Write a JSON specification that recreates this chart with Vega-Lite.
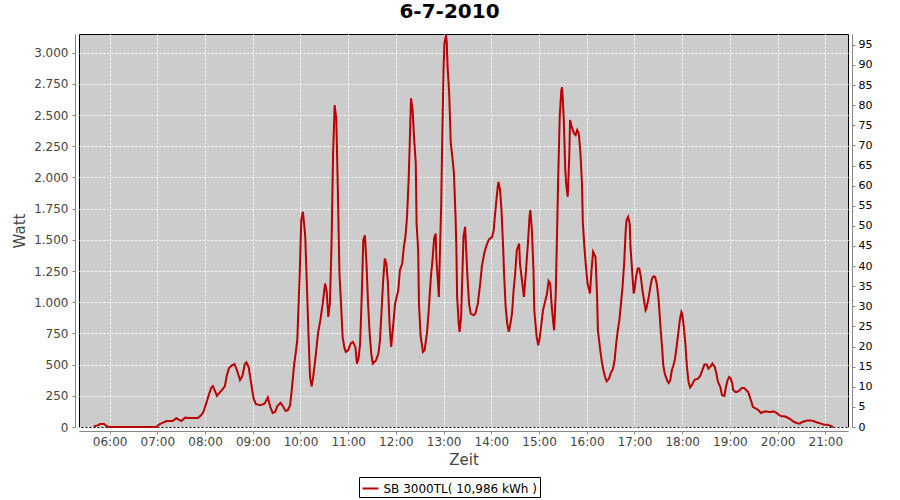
{
  "$schema": "https://vega.github.io/schema/vega-lite/v6.json",
  "width": 769,
  "height": 393,
  "autosize": "none",
  "padding": {"left": 79, "top": 34, "right": 52, "bottom": 73},
  "background": "white",
  "title": {"text": "6-7-2010", "fontSize": 20, "fontWeight": "bold", "font": "DejaVu Sans", "color": "#000000", "anchor": "middle", "dx": -14, "offset": 9},
  "data": {
    "values": [
      {"t":"2010-07-06T05:40","w":5},{"t":"2010-07-06T05:46","w":15},{"t":"2010-07-06T05:48","w":25},{"t":"2010-07-06T05:53","w":25},{"t":"2010-07-06T05:56","w":8},{"t":"2010-07-06T05:59","w":0},{"t":"2010-07-06T06:59","w":0},
      {"t":"2010-07-06T07:02","w":20},{"t":"2010-07-06T07:07","w":35},{"t":"2010-07-06T07:12","w":48},{"t":"2010-07-06T07:19","w":48},{"t":"2010-07-06T07:24","w":70},{"t":"2010-07-06T07:30","w":48},{"t":"2010-07-06T07:35","w":75},{"t":"2010-07-06T07:39","w":72},{"t":"2010-07-06T07:51","w":72},{"t":"2010-07-06T07:55","w":94},{"t":"2010-07-06T07:58","w":121},
      {"t":"2010-07-06T08:02","w":200},{"t":"2010-07-06T08:05","w":263},{"t":"2010-07-06T08:08","w":317},{"t":"2010-07-06T08:10","w":328},{"t":"2010-07-06T08:12","w":296},{"t":"2010-07-06T08:15","w":250},{"t":"2010-07-06T08:18","w":274},{"t":"2010-07-06T08:22","w":301},{"t":"2010-07-06T08:25","w":328},{"t":"2010-07-06T08:27","w":403},{"t":"2010-07-06T08:30","w":470},{"t":"2010-07-06T08:33","w":490},{"t":"2010-07-06T08:37","w":505},{"t":"2010-07-06T08:40","w":457},{"t":"2010-07-06T08:44","w":377},{"t":"2010-07-06T08:47","w":409},{"t":"2010-07-06T08:50","w":505},{"t":"2010-07-06T08:52","w":519},{"t":"2010-07-06T08:55","w":476},{"t":"2010-07-06T08:58","w":350},
      {"t":"2010-07-06T09:01","w":229},{"t":"2010-07-06T09:04","w":183},{"t":"2010-07-06T09:10","w":175},{"t":"2010-07-06T09:15","w":188},{"t":"2010-07-06T09:19","w":237},{"t":"2010-07-06T09:22","w":161},{"t":"2010-07-06T09:25","w":113},{"t":"2010-07-06T09:28","w":121},{"t":"2010-07-06T09:31","w":167},{"t":"2010-07-06T09:35","w":194},{"t":"2010-07-06T09:38","w":167},{"t":"2010-07-06T09:41","w":129},{"t":"2010-07-06T09:44","w":134},{"t":"2010-07-06T09:47","w":175},{"t":"2010-07-06T09:49","w":296},{"t":"2010-07-06T09:52","w":498},{"t":"2010-07-06T09:54","w":592},{"t":"2010-07-06T09:56","w":700},{"t":"2010-07-06T09:58","w":1043},{"t":"2010-07-06T09:59","w":1217},
      {"t":"2010-07-06T10:01","w":1658},{"t":"2010-07-06T10:03","w":1725},{"t":"2010-07-06T10:05","w":1600},{"t":"2010-07-06T10:06","w":1524},{"t":"2010-07-06T10:08","w":1150},{"t":"2010-07-06T10:10","w":762},{"t":"2010-07-06T10:12","w":401},{"t":"2010-07-06T10:14","w":326},{"t":"2010-07-06T10:16","w":401},{"t":"2010-07-06T10:19","w":562},{"t":"2010-07-06T10:22","w":749},{"t":"2010-07-06T10:25","w":856},{"t":"2010-07-06T10:28","w":990},{"t":"2010-07-06T10:31","w":1150},{"t":"2010-07-06T10:33","w":1083},{"t":"2010-07-06T10:35","w":882},{"t":"2010-07-06T10:37","w":990},{"t":"2010-07-06T10:39","w":1444},{"t":"2010-07-06T10:41","w":2193},{"t":"2010-07-06T10:43","w":2580},{"t":"2010-07-06T10:45","w":2473},{"t":"2010-07-06T10:47","w":1898},{"t":"2010-07-06T10:49","w":1230},{"t":"2010-07-06T10:51","w":989},{"t":"2010-07-06T10:53","w":722},{"t":"2010-07-06T10:55","w":642},{"t":"2010-07-06T10:57","w":602},
      {"t":"2010-07-06T11:00","w":615},{"t":"2010-07-06T11:03","w":668},{"t":"2010-07-06T11:06","w":682},{"t":"2010-07-06T11:09","w":642},{"t":"2010-07-06T11:11","w":508},{"t":"2010-07-06T11:13","w":548},{"t":"2010-07-06T11:15","w":668},{"t":"2010-07-06T11:17","w":1043},{"t":"2010-07-06T11:19","w":1497},{"t":"2010-07-06T11:21","w":1537},{"t":"2010-07-06T11:23","w":1310},{"t":"2010-07-06T11:25","w":989},{"t":"2010-07-06T11:27","w":749},{"t":"2010-07-06T11:29","w":588},{"t":"2010-07-06T11:31","w":508},{"t":"2010-07-06T11:35","w":535},{"t":"2010-07-06T11:38","w":588},{"t":"2010-07-06T11:40","w":695},{"t":"2010-07-06T11:42","w":936},{"t":"2010-07-06T11:44","w":1177},{"t":"2010-07-06T11:46","w":1350},{"t":"2010-07-06T11:48","w":1310},{"t":"2010-07-06T11:50","w":1150},{"t":"2010-07-06T11:52","w":829},{"t":"2010-07-06T11:54","w":642},{"t":"2010-07-06T11:56","w":775},{"t":"2010-07-06T11:59","w":989},
      {"t":"2010-07-06T12:01","w":1043},{"t":"2010-07-06T12:03","w":1096},{"t":"2010-07-06T12:05","w":1257},{"t":"2010-07-06T12:08","w":1310},{"t":"2010-07-06T12:10","w":1444},{"t":"2010-07-06T12:12","w":1524},{"t":"2010-07-06T12:14","w":1685},{"t":"2010-07-06T12:16","w":1979},{"t":"2010-07-06T12:18","w":2407},{"t":"2010-07-06T12:19","w":2634},{"t":"2010-07-06T12:21","w":2540},{"t":"2010-07-06T12:23","w":2300},{"t":"2010-07-06T12:25","w":2113},{"t":"2010-07-06T12:26","w":1631},{"t":"2010-07-06T12:28","w":1417},{"t":"2010-07-06T12:29","w":989},{"t":"2010-07-06T12:31","w":735},{"t":"2010-07-06T12:34","w":602},{"t":"2010-07-06T12:36","w":615},{"t":"2010-07-06T12:39","w":749},{"t":"2010-07-06T12:41","w":909},{"t":"2010-07-06T12:44","w":1203},{"t":"2010-07-06T12:46","w":1337},{"t":"2010-07-06T12:48","w":1511},{"t":"2010-07-06T12:50","w":1551},{"t":"2010-07-06T12:51","w":1337},{"t":"2010-07-06T12:53","w":1150},{"t":"2010-07-06T12:54","w":1043},{"t":"2010-07-06T12:55","w":1310},{"t":"2010-07-06T12:57","w":1792},{"t":"2010-07-06T12:58","w":2219},
      {"t":"2010-07-06T13:00","w":2888},{"t":"2010-07-06T13:01","w":3075},{"t":"2010-07-06T13:03","w":3142},{"t":"2010-07-06T13:04","w":3075},{"t":"2010-07-06T13:05","w":2888},{"t":"2010-07-06T13:07","w":2674},{"t":"2010-07-06T13:09","w":2273},{"t":"2010-07-06T13:11","w":2166},{"t":"2010-07-06T13:13","w":2032},{"t":"2010-07-06T13:15","w":1685},{"t":"2010-07-06T13:16","w":1444},{"t":"2010-07-06T13:17","w":1043},{"t":"2010-07-06T13:19","w":829},{"t":"2010-07-06T13:20","w":762},{"t":"2010-07-06T13:22","w":882},{"t":"2010-07-06T13:23","w":1096},{"t":"2010-07-06T13:25","w":1524},{"t":"2010-07-06T13:27","w":1604},{"t":"2010-07-06T13:28","w":1471},{"t":"2010-07-06T13:30","w":1203},{"t":"2010-07-06T13:32","w":989},{"t":"2010-07-06T13:34","w":909},{"t":"2010-07-06T13:38","w":896},{"t":"2010-07-06T13:40","w":909},{"t":"2010-07-06T13:43","w":989},{"t":"2010-07-06T13:46","w":1150},{"t":"2010-07-06T13:48","w":1283},{"t":"2010-07-06T13:51","w":1390},{"t":"2010-07-06T13:54","w":1457},{"t":"2010-07-06T13:57","w":1503},
      {"t":"2010-07-06T14:01","w":1524},{"t":"2010-07-06T14:03","w":1578},{"t":"2010-07-06T14:04","w":1658},{"t":"2010-07-06T14:06","w":1792},{"t":"2010-07-06T14:08","w":1925},{"t":"2010-07-06T14:09","w":1965},{"t":"2010-07-06T14:11","w":1898},{"t":"2010-07-06T14:13","w":1711},{"t":"2010-07-06T14:15","w":1417},{"t":"2010-07-06T14:16","w":1230},{"t":"2010-07-06T14:18","w":963},{"t":"2010-07-06T14:20","w":829},{"t":"2010-07-06T14:22","w":762},{"t":"2010-07-06T14:24","w":829},{"t":"2010-07-06T14:26","w":909},{"t":"2010-07-06T14:28","w":1096},{"t":"2010-07-06T14:30","w":1230},{"t":"2010-07-06T14:32","w":1417},{"t":"2010-07-06T14:35","w":1471},{"t":"2010-07-06T14:36","w":1310},{"t":"2010-07-06T14:38","w":1203},{"t":"2010-07-06T14:40","w":1096},{"t":"2010-07-06T14:41","w":1043},{"t":"2010-07-06T14:43","w":1203},{"t":"2010-07-06T14:46","w":1471},{"t":"2010-07-06T14:48","w":1685},{"t":"2010-07-06T14:49","w":1738},{"t":"2010-07-06T14:51","w":1578},{"t":"2010-07-06T14:53","w":1257},{"t":"2010-07-06T14:54","w":936},{"t":"2010-07-06T14:57","w":722},{"t":"2010-07-06T14:59","w":655},
      {"t":"2010-07-06T15:01","w":722},{"t":"2010-07-06T15:03","w":829},{"t":"2010-07-06T15:05","w":936},{"t":"2010-07-06T15:07","w":989},{"t":"2010-07-06T15:10","w":1070},{"t":"2010-07-06T15:12","w":1171},{"t":"2010-07-06T15:14","w":1150},{"t":"2010-07-06T15:16","w":963},{"t":"2010-07-06T15:18","w":829},{"t":"2010-07-06T15:19","w":775},{"t":"2010-07-06T15:21","w":1070},{"t":"2010-07-06T15:23","w":1658},{"t":"2010-07-06T15:24","w":1979},{"t":"2010-07-06T15:26","w":2487},{"t":"2010-07-06T15:28","w":2700},{"t":"2010-07-06T15:29","w":2722},{"t":"2010-07-06T15:31","w":2487},{"t":"2010-07-06T15:33","w":2059},{"t":"2010-07-06T15:34","w":1952},{"t":"2010-07-06T15:36","w":1845},{"t":"2010-07-06T15:38","w":2166},{"t":"2010-07-06T15:39","w":2460},{"t":"2010-07-06T15:41","w":2407},{"t":"2010-07-06T15:44","w":2353},{"t":"2010-07-06T15:46","w":2340},{"t":"2010-07-06T15:48","w":2380},{"t":"2010-07-06T15:50","w":2353},{"t":"2010-07-06T15:52","w":2200},{"t":"2010-07-06T15:54","w":1950},{"t":"2010-07-06T15:55","w":1650},{"t":"2010-07-06T15:57","w":1444},{"t":"2010-07-06T15:59","w":1283},
      {"t":"2010-07-06T16:01","w":1150},{"t":"2010-07-06T16:03","w":1096},{"t":"2010-07-06T16:04","w":1070},{"t":"2010-07-06T16:06","w":1257},{"t":"2010-07-06T16:08","w":1404},{"t":"2010-07-06T16:11","w":1364},{"t":"2010-07-06T16:13","w":1043},{"t":"2010-07-06T16:14","w":775},{"t":"2010-07-06T16:17","w":615},{"t":"2010-07-06T16:19","w":521},{"t":"2010-07-06T16:21","w":455},{"t":"2010-07-06T16:23","w":401},{"t":"2010-07-06T16:25","w":366},{"t":"2010-07-06T16:28","w":388},{"t":"2010-07-06T16:30","w":428},{"t":"2010-07-06T16:33","w":468},{"t":"2010-07-06T16:35","w":535},{"t":"2010-07-06T16:37","w":668},{"t":"2010-07-06T16:39","w":775},{"t":"2010-07-06T16:41","w":856},{"t":"2010-07-06T16:43","w":989},{"t":"2010-07-06T16:45","w":1123},{"t":"2010-07-06T16:47","w":1310},{"t":"2010-07-06T16:49","w":1578},{"t":"2010-07-06T16:50","w":1658},{"t":"2010-07-06T16:52","w":1685},{"t":"2010-07-06T16:54","w":1631},{"t":"2010-07-06T16:55","w":1444},{"t":"2010-07-06T16:57","w":1257},{"t":"2010-07-06T16:59","w":1070},
      {"t":"2010-07-06T17:00","w":1096},{"t":"2010-07-06T17:02","w":1203},{"t":"2010-07-06T17:04","w":1270},{"t":"2010-07-06T17:06","w":1270},{"t":"2010-07-06T17:08","w":1203},{"t":"2010-07-06T17:10","w":1096},{"t":"2010-07-06T17:12","w":1016},{"t":"2010-07-06T17:14","w":936},{"t":"2010-07-06T17:15","w":949},{"t":"2010-07-06T17:18","w":1043},{"t":"2010-07-06T17:20","w":1123},{"t":"2010-07-06T17:22","w":1190},{"t":"2010-07-06T17:24","w":1209},{"t":"2010-07-06T17:26","w":1203},{"t":"2010-07-06T17:28","w":1150},{"t":"2010-07-06T17:30","w":1043},{"t":"2010-07-06T17:31","w":963},{"t":"2010-07-06T17:33","w":775},{"t":"2010-07-06T17:35","w":615},{"t":"2010-07-06T17:36","w":508},{"t":"2010-07-06T17:38","w":428},{"t":"2010-07-06T17:41","w":374},{"t":"2010-07-06T17:43","w":353},{"t":"2010-07-06T17:45","w":374},{"t":"2010-07-06T17:47","w":455},{"t":"2010-07-06T17:49","w":495},{"t":"2010-07-06T17:51","w":548},{"t":"2010-07-06T17:53","w":642},{"t":"2010-07-06T17:55","w":749},{"t":"2010-07-06T17:57","w":856},{"t":"2010-07-06T17:59","w":922},
      {"t":"2010-07-06T18:00","w":909},{"t":"2010-07-06T18:02","w":802},{"t":"2010-07-06T18:04","w":668},{"t":"2010-07-06T18:06","w":481},{"t":"2010-07-06T18:08","w":361},{"t":"2010-07-06T18:10","w":316},{"t":"2010-07-06T18:12","w":334},{"t":"2010-07-06T18:14","w":361},{"t":"2010-07-06T18:16","w":380},{"t":"2010-07-06T18:20","w":388},{"t":"2010-07-06T18:23","w":414},{"t":"2010-07-06T18:26","w":468},{"t":"2010-07-06T18:28","w":500},{"t":"2010-07-06T18:31","w":500},{"t":"2010-07-06T18:33","w":468},{"t":"2010-07-06T18:36","w":487},{"t":"2010-07-06T18:38","w":508},{"t":"2010-07-06T18:41","w":481},{"t":"2010-07-06T18:43","w":428},{"t":"2010-07-06T18:45","w":361},{"t":"2010-07-06T18:48","w":321},{"t":"2010-07-06T18:50","w":254},{"t":"2010-07-06T18:53","w":249},{"t":"2010-07-06T18:55","w":321},{"t":"2010-07-06T18:57","w":374},{"t":"2010-07-06T18:59","w":401},
      {"t":"2010-07-06T19:01","w":388},{"t":"2010-07-06T19:03","w":348},{"t":"2010-07-06T19:04","w":299},{"t":"2010-07-06T19:07","w":281},{"t":"2010-07-06T19:09","w":281},{"t":"2010-07-06T19:12","w":294},{"t":"2010-07-06T19:15","w":313},{"t":"2010-07-06T19:18","w":313},{"t":"2010-07-06T19:20","w":299},{"t":"2010-07-06T19:23","w":281},{"t":"2010-07-06T19:25","w":241},{"t":"2010-07-06T19:27","w":201},{"t":"2010-07-06T19:29","w":160},{"t":"2010-07-06T19:33","w":147},{"t":"2010-07-06T19:36","w":134},{"t":"2010-07-06T19:39","w":112},{"t":"2010-07-06T19:42","w":120},{"t":"2010-07-06T19:45","w":126},{"t":"2010-07-06T19:49","w":120},{"t":"2010-07-06T19:52","w":120},{"t":"2010-07-06T19:55","w":126},{"t":"2010-07-06T19:59","w":112},
      {"t":"2010-07-06T20:02","w":94},{"t":"2010-07-06T20:05","w":86},{"t":"2010-07-06T20:08","w":86},{"t":"2010-07-06T20:11","w":80},{"t":"2010-07-06T20:15","w":67},{"t":"2010-07-06T20:18","w":53},{"t":"2010-07-06T20:21","w":40},{"t":"2010-07-06T20:24","w":32},{"t":"2010-07-06T20:28","w":27},{"t":"2010-07-06T20:31","w":40},{"t":"2010-07-06T20:35","w":48},{"t":"2010-07-06T20:38","w":53},{"t":"2010-07-06T20:41","w":53},{"t":"2010-07-06T20:45","w":48},{"t":"2010-07-06T20:48","w":40},{"t":"2010-07-06T20:52","w":32},{"t":"2010-07-06T20:55","w":27},{"t":"2010-07-06T20:58","w":19},
      {"t":"2010-07-06T21:02","w":19},{"t":"2010-07-06T21:05","w":13},{"t":"2010-07-06T21:08","w":5},{"t":"2010-07-06T21:10","w":0}
    ]
  },
  "layer": [
    {
      "mark": {"type": "line", "color": "#BB0000", "strokeWidth": 2},
      "encoding": {
        "x": {
          "field": "t", "type": "temporal", "title": "Zeit",
          "scale": {"domain": [
            {"year": 2010, "month": 7, "date": 6, "hours": 5, "minutes": 21, "seconds": 30},
            {"year": 2010, "month": 7, "date": 6, "hours": 21, "minutes": 28, "seconds": 30}
          ]},
          "axis": {
            "format": "%H:%M",
            "values": [
              {"year": 2010, "month": 7, "date": 6, "hours": 6},
              {"year": 2010, "month": 7, "date": 6, "hours": 7},
              {"year": 2010, "month": 7, "date": 6, "hours": 8},
              {"year": 2010, "month": 7, "date": 6, "hours": 9},
              {"year": 2010, "month": 7, "date": 6, "hours": 10},
              {"year": 2010, "month": 7, "date": 6, "hours": 11},
              {"year": 2010, "month": 7, "date": 6, "hours": 12},
              {"year": 2010, "month": 7, "date": 6, "hours": 13},
              {"year": 2010, "month": 7, "date": 6, "hours": 14},
              {"year": 2010, "month": 7, "date": 6, "hours": 15},
              {"year": 2010, "month": 7, "date": 6, "hours": 16},
              {"year": 2010, "month": 7, "date": 6, "hours": 17},
              {"year": 2010, "month": 7, "date": 6, "hours": 18},
              {"year": 2010, "month": 7, "date": 6, "hours": 19},
              {"year": 2010, "month": 7, "date": 6, "hours": 20},
              {"year": 2010, "month": 7, "date": 6, "hours": 21}
            ],
            "offset": 4, "domainColor": "#888888", "tickColor": "#888888", "tickSize": 3,
            "labelFont": "DejaVu Sans", "labelFontSize": 12, "labelColor": "#444444", "labelPadding": 2, "labelFlush": false,
            "titleFont": "DejaVu Sans", "titleFontSize": 15, "titleFontWeight": "normal", "titleColor": "#444444", "titlePadding": 5,
            "grid": true, "gridColor": "#FFFFFF", "gridDash": [2, 2], "gridWidth": 1
          }
        },
        "y": {
          "field": "w", "type": "quantitative", "title": "Watt",
          "scale": {"domain": [0, 3150], "nice": false},
          "axis": {
            "values": [0, 250, 500, 750, 1000, 1250, 1500, 1750, 2000, 2250, 2500, 2750, 3000],
            "labelExpr": "replace(format(datum.value, ','), ',', '.')",
            "offset": 4, "domainColor": "#888888", "tickColor": "#888888", "tickSize": 3,
            "labelFont": "DejaVu Sans", "labelFontSize": 12, "labelColor": "#444444", "labelPadding": 4,
            "titleFont": "DejaVu Sans", "titleFontSize": 15, "titleFontWeight": "normal", "titleColor": "#444444", "titlePadding": 6,
            "grid": true, "gridColor": "#FFFFFF", "gridDash": [2, 2], "gridWidth": 1
          }
        },
        "color": {
          "datum": "SB 3000TL( 10,986 kWh )",
          "type": "nominal",
          "scale": {"range": ["#BB0000"]},
          "legend": {
            "orient": "none", "legendX": 280, "legendY": 443, "title": null,
            "symbolType": "stroke", "symbolStrokeWidth": 2, "symbolSize": 256,
            "labelFont": "DejaVu Sans", "labelFontSize": 12, "labelColor": "#000000", "labelOffset": 4,
            "strokeColor": "#000000", "fillColor": "#FFFFFF", "padding": 2.5, "cornerRadius": 0
          }
        }
      }
    },
    {
      "mark": {"type": "point", "opacity": 0},
      "encoding": {
        "y": {
          "datum": 0, "type": "quantitative", "title": "%",
          "scale": {"domain": [0, 97.7], "nice": false},
          "axis": {
            "orient": "right",
            "values": [0, 5, 10, 15, 20, 25, 30, 35, 40, 45, 50, 55, 60, 65, 70, 75, 80, 85, 90, 95],
            "offset": 4, "domainColor": "#888888", "tickColor": "#888888", "tickSize": 3,
            "labelFont": "DejaVu Sans", "labelFontSize": 11, "labelColor": "#000000", "labelPadding": 3,
            "titleFont": "DejaVu Sans", "titleFontSize": 15, "titleFontWeight": "normal", "titleColor": "#444444", "titlePadding": 6,
            "grid": false
          }
        }
      }
    }
  ],
  "resolve": {"scale": {"y": "independent"}},
  "config": {
    "view": {"fill": "#CCCCCC", "stroke": "#000000", "strokeWidth": 1}
  }
}
